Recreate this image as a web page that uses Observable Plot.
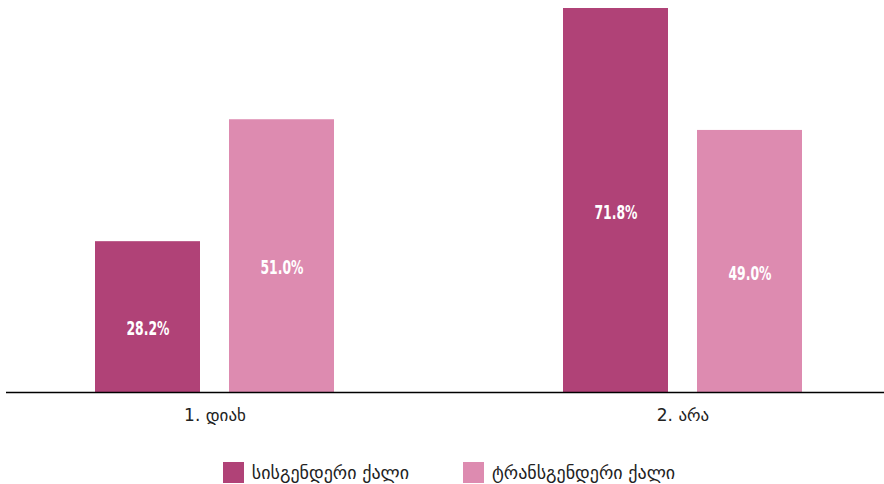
<!DOCTYPE html>
<html>
<head>
<meta charset="utf-8">
<script src="https://cdn.jsdelivr.net/npm/d3@7"></script>
<script src="https://cdn.jsdelivr.net/npm/@observablehq/plot@0.6"></script>
<style>
  html, body { margin: 0; padding: 0; background: #fff; }
  body { width: 884px; height: 484px; overflow: hidden; font-family: "DejaVu Sans", sans-serif; }
  #legend { display: flex; justify-content: center; gap: 54px; margin-top: 22px; margin-left: 14px; font-size: 18px; color: #222; }
  .item { display: flex; align-items: center; gap: 8px; }
  .sw { width: 21px; height: 21px; display: inline-block; }
</style>
</head>
<body>
<div id="chart"></div>
<div id="legend"></div>
<script>
const categories = ["1. დიახ", "2. არა"];
const seriesNames = ["სისგენდერი ქალი", "ტრანსგენდერი ქალი"];
const cisValues = [28.2, 71.8];
const transValues = [51.0, 49.0];
const colors = ["#b04277", "#dd8bb0"];

const cis = categories.map((c, i) => ({category: c, value: cisValues[i]}));
const trans = categories.map((c, i) => ({category: c, value: transValues[i]}));

const bandW = 239, barW = 105, inset = bandW - barW;
const labelFont = {fill: "white", fontWeight: "bold", fontSize: 19, fontFamily: "'DejaVu Sans Condensed', 'DejaVu Sans', sans-serif", fontStretch: "condensed", className: "barlabel"};

const plot = Plot.plot({
  width: 884,
  height: 440,
  marginTop: 8,
  marginBottom: 48,
  marginLeft: 6,
  marginRight: 0,
  style: {fontFamily: "'DejaVu Sans', sans-serif", fontSize: "17px", color: "#222"},
  x: {domain: categories, paddingInner: 0.49, paddingOuter: 0.182, align: 0.52, label: null, tickSize: 0, tickPadding: 16},
  y: {domain: [0, 71.8], axis: null},
  marks: [
    Plot.barY(cis, {x: "category", y: "value", fill: colors[0], insetRight: inset}),
    Plot.barY(trans, {x: "category", y: "value", fill: colors[1], insetLeft: inset}),
    Plot.text(cis, {x: "category", y: d => d.value / 2, text: d => d.value.toFixed(1) + "%", dx: -inset / 2, dy: 12, ...labelFont}),
    Plot.text(trans, {x: "category", y: d => d.value / 2, text: d => d.value.toFixed(1) + "%", dx: inset / 2, dy: 12, ...labelFont}),
    Plot.ruleY([0], {stroke: "#000", strokeWidth: 1.5})
  ]
});
d3.select(plot).selectAll(".barlabel text")
  .attr("textLength", 43)
  .attr("lengthAdjust", "spacingAndGlyphs");
document.getElementById("chart").appendChild(plot);

const legend = document.getElementById("legend");
seriesNames.forEach((name, i) => {
  const item = document.createElement("div");
  item.className = "item";
  const sw = document.createElement("span");
  sw.className = "sw";
  sw.style.background = colors[i];
  const lab = document.createElement("span");
  lab.textContent = name;
  item.appendChild(sw);
  item.appendChild(lab);
  legend.appendChild(item);
});
</script>
</body>
</html>
